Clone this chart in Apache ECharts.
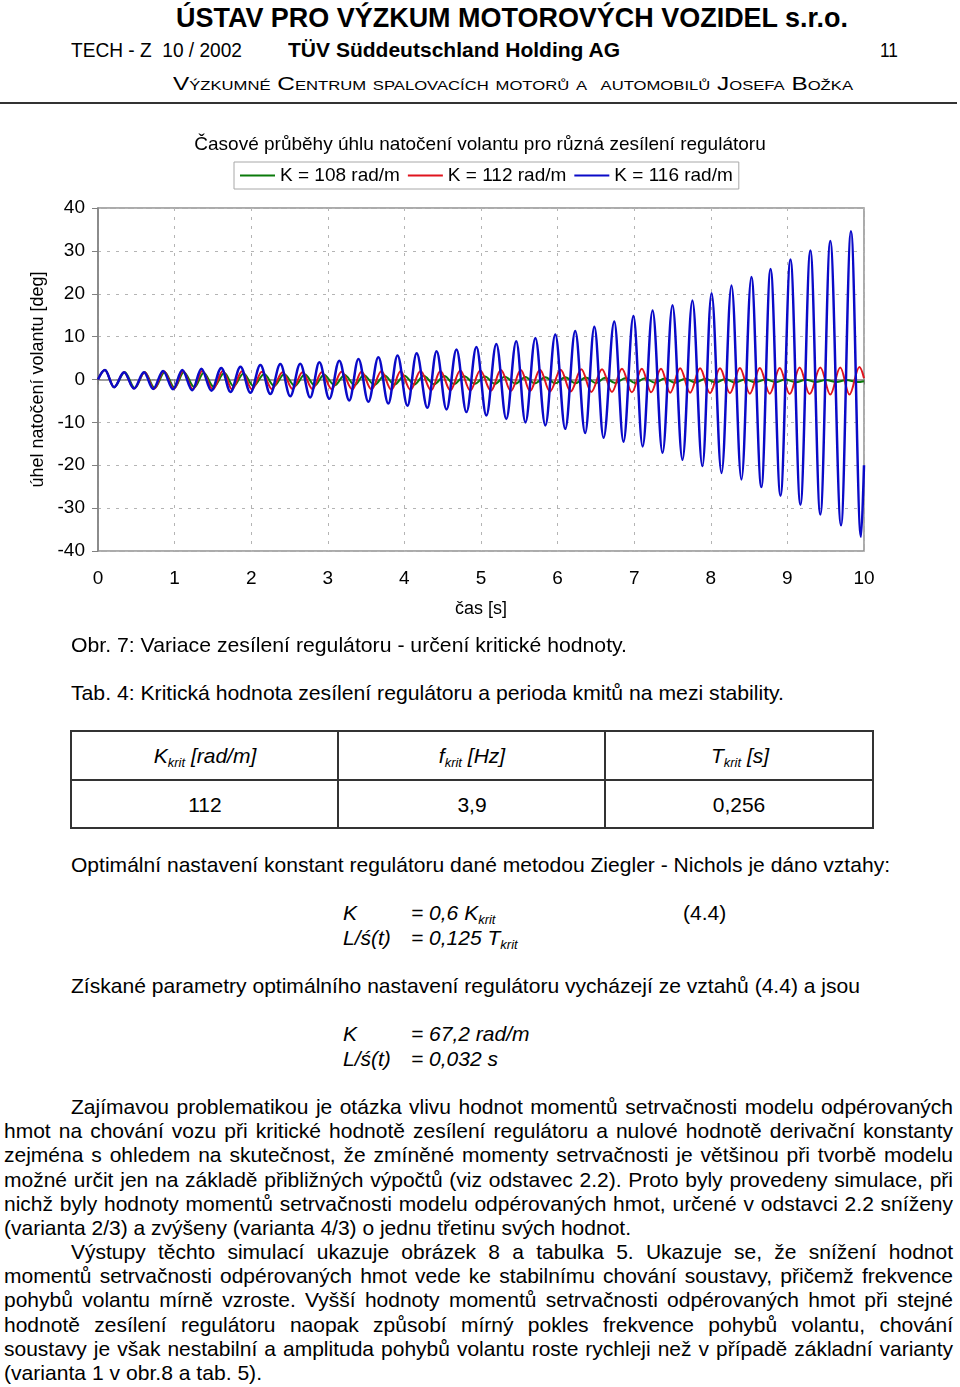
<!DOCTYPE html>
<html><head><meta charset="utf-8">
<script src="https://cdn.jsdelivr.net/npm/echarts@6/dist/echarts.min.js"></script>
<style>
html,body{margin:0;padding:0;background:#fff;}
#page{position:relative;width:960px;height:1387px;overflow:hidden;font-family:'Liberation Sans',Arial,sans-serif;color:#000;background:#fff;}
.t{position:absolute;white-space:pre;line-height:24px;height:24px;font-size:21px;transform-origin:0 50%;}
.b{font-weight:bold;}
.i{font-style:italic;}
.sc{font-variant:small-caps;}
sub{font-size:13px;vertical-align:-4px;line-height:0;}
#chart{position:absolute;left:0;top:120px;width:960px;height:520px;}
.rule{position:absolute;left:0;top:102px;width:957px;height:2px;background:#333;}
.tbl{position:absolute;box-sizing:border-box;border:2px solid #333;left:70px;top:730px;width:804px;height:99px;}
.hl{position:absolute;background:#333;}
</style></head>
<body>
<div id="page">
  <div class="t b" style="font-size:27px" data-x="176" data-y="18" data-w="672">ÚSTAV PRO VÝZKUM MOTOROVÝCH VOZIDEL s.r.o.</div>
  <div class="t" style="font-size:20px" data-x="71" data-y="50" data-w="171">TECH - Z  10 / 2002</div>
  <div class="t b" style="font-size:20px" data-x="288" data-y="50" data-w="332">TÜV Süddeutschland Holding AG</div>
  <div class="t" style="font-size:20px" data-x="880" data-y="50" data-w="18">11</div>
  <div class="t sc" style="font-size:19px" data-x="173" data-y="84" data-w="680">Výzkumné Centrum spalovacích motorů a  automobilů Josefa Božka</div>
  <div class="rule"></div>

  <div id="chart"></div>

  <div class="t" data-x="71" data-y="645" data-w="556">Obr. 7: Variace zesílení regulátoru - určení kritické hodnoty.</div>
  <div class="t" data-x="71" data-y="693" data-w="713">Tab. 4: Kritická hodnota zesílení regulátoru a perioda kmitů na mezi stability.</div>

  <div class="tbl"></div>
  <div class="hl" style="left:71px;top:779px;width:802px;height:2px"></div>
  <div class="hl" style="left:337px;top:731px;width:2px;height:97px"></div>
  <div class="hl" style="left:604px;top:731px;width:2px;height:97px"></div>
  <div class="t i" data-cx="205" data-y="756">K<sub>krit</sub> [rad/m]</div>
  <div class="t i" data-cx="472" data-y="756">f<sub>krit</sub> [Hz]</div>
  <div class="t i" data-cx="740" data-y="756">T<sub>krit</sub> [s]</div>
  <div class="t" data-cx="205" data-y="805">112</div>
  <div class="t" data-cx="472" data-y="805">3,9</div>
  <div class="t" data-cx="739" data-y="805">0,256</div>

  <div class="t" data-x="71" data-y="865" data-w="819">Optimální nastavení konstant regulátoru dané metodou Ziegler - Nichols je dáno vztahy:</div>
  <div class="t i" data-x="343" data-y="913">K</div>
  <div class="t i" data-x="411" data-y="913">= 0,6 K<sub>krit</sub></div>
  <div class="t" data-x="683" data-y="913">(4.4)</div>
  <div class="t i" data-x="343" data-y="938">L/ś(t)</div>
  <div class="t i" data-x="411" data-y="938">= 0,125 T<sub>krit</sub></div>

  <div class="t" data-x="71" data-y="986" data-w="789">Získané parametry optimálního nastavení regulátoru vycházejí ze vztahů (4.4) a jsou</div>
  <div class="t i" data-x="343" data-y="1034">K</div>
  <div class="t i" data-x="411" data-y="1034">= 67,2 rad/m</div>
  <div class="t i" data-x="343" data-y="1059">L/ś(t)</div>
  <div class="t i" data-x="411" data-y="1059">= 0,032 s</div>

  <div class="t" data-x="71" data-y="1107" data-w="882" data-j="1">Zajímavou problematikou je otázka vlivu hodnot momentů setrvačnosti modelu odpérovaných</div>
  <div class="t" data-x="4" data-y="1131" data-w="949" data-j="1">hmot na chování vozu při kritické hodnotě zesílení regulátoru a nulové hodnotě derivační konstanty</div>
  <div class="t" data-x="4" data-y="1155" data-w="949" data-j="1">zejména s ohledem na skutečnost, že zmíněné momenty setrvačnosti je většinou při tvorbě modelu</div>
  <div class="t" data-x="4" data-y="1180" data-w="949" data-j="1">možné určit jen na základě přibližných výpočtů (viz odstavec 2.2). Proto byly provedeny simulace, při</div>
  <div class="t" data-x="4" data-y="1204" data-w="949" data-j="1">nichž byly hodnoty momentů setrvačnosti modelu odpérovaných hmot, určené v odstavci 2.2 sníženy</div>
  <div class="t" data-x="4" data-y="1228" data-w="627">(varianta 2/3) a zvýšeny (varianta 4/3) o jednu třetinu svých hodnot.</div>
  <div class="t" data-x="71" data-y="1252" data-w="882" data-j="1">Výstupy těchto simulací ukazuje obrázek 8 a tabulka 5. Ukazuje se, že snížení hodnot</div>
  <div class="t" data-x="4" data-y="1276" data-w="949" data-j="1">momentů setrvačnosti odpérovaných hmot vede ke stabilnímu chování soustavy, přičemž frekvence</div>
  <div class="t" data-x="4" data-y="1300" data-w="949" data-j="1">pohybů volantu mírně vzroste. Vyšší hodnoty momentů setrvačnosti odpérovaných hmot při stejné</div>
  <div class="t" data-x="4" data-y="1325" data-w="949" data-j="1">hodnotě zesílení regulátoru naopak způsobí mírný pokles frekvence pohybů volantu, chování</div>
  <div class="t" data-x="4" data-y="1349" data-w="949" data-j="1">soustavy je však nestabilní a amplituda pohybů volantu roste rychleji než v případě základní varianty</div>
  <div class="t" data-x="4" data-y="1373" data-w="258">(varianta 1 v obr.8 a tab. 5).</div>
</div>
<script>
// ---- chart data (time [s], angle [deg]): extremes of each oscillation ----
var seriesNames = ['K = 108 rad/m', 'K = 112 rad/m', 'K = 116 rad/m'];
var k108 = [[0,0],[0.09,2.2],[0.21,-1.8],[0.35,1.7],[0.48,-2.0],[0.61,1.7],[0.74,-2.0],[0.87,1.7],[1.00,-1.9],[1.12,1.7],[1.26,-1.8],[1.38,1.6],[1.51,-1.7],[1.65,1.5],[1.77,-1.6],[1.90,1.4],[2.03,-1.55],[2.17,1.3],[2.30,-1.5],[2.43,1.25],[2.57,-1.45],[2.70,1.15],[2.83,-1.4],[2.95,1.1],[3.09,-1.35],[3.22,1.05],[3.35,-1.3],[3.47,1.0],[3.61,-1.25],[3.74,0.95],[3.87,-1.2],[4.00,0.9],[4.13,-1.15],[4.25,0.85],[4.39,-1.1],[4.52,0.8],[4.65,-1.05],[4.78,0.75],[4.92,-1.0],[5.05,0.7],[5.18,-1.0],[5.31,0.65],[5.45,-0.95],[5.58,0.6],[5.70,-0.9],[5.84,0.55],[5.97,-0.9],[6.10,0.5],[6.23,-0.85],[6.37,0.45],[6.50,-0.85],[6.62,0.4],[6.75,-0.8],[6.89,0.35],[7.01,-0.8],[7.14,0.3],[7.27,-0.75],[7.40,0.25],[7.53,-0.75],[7.67,0.2],[7.80,-0.7],[7.93,0.15],[8.06,-0.7],[8.19,0.1],[8.32,-0.7],[8.45,0.05],[8.58,-0.65],[8.72,0.0],[8.85,-0.65],[8.97,0.0],[9.11,-0.65],[9.24,-0.05],[9.37,-0.6],[9.50,-0.1],[9.64,-0.6],[9.77,-0.1],[9.91,-0.6],[10,-0.4]];
var k112 = [[0,0],[0.09,2.2],[0.21,-1.8],[0.34,1.7],[0.47,-2.1],[0.61,1.7],[0.73,-2.2],[0.86,1.9],[0.99,-2.2],[1.11,2.0],[1.24,-2.3],[1.36,2.0],[1.50,-2.3],[1.63,2.0],[1.75,-2.3],[1.88,1.9],[2.01,-2.3],[2.14,1.8],[2.27,-2.2],[2.41,1.7],[2.54,-2.2],[2.67,1.7],[2.80,-2.2],[2.92,1.7],[3.05,-2.2],[3.18,1.8],[3.32,-2.3],[3.44,1.8],[3.57,-2.3],[3.70,1.9],[3.83,-2.4],[3.95,1.9],[4.08,-2.4],[4.21,2.0],[4.35,-2.5],[4.47,2.0],[4.60,-2.5],[4.73,2.1],[4.86,-2.6],[4.99,2.1],[5.13,-2.6],[5.26,2.2],[5.39,-2.7],[5.52,2.2],[5.64,-2.7],[5.77,2.3],[5.90,-2.8],[6.04,2.3],[6.17,-2.8],[6.31,2.4],[6.44,-2.9],[6.58,2.4],[6.71,-2.9],[6.84,2.5],[6.97,-3.0],[7.10,2.5],[7.22,-3.0],[7.35,2.5],[7.47,-3.1],[7.60,2.6],[7.73,-3.1],[7.86,2.6],[7.99,-3.2],[8.12,2.6],[8.25,-3.2],[8.38,2.7],[8.51,-3.3],[8.64,2.7],[8.77,-3.3],[8.90,2.7],[9.03,-3.4],[9.16,2.8],[9.29,-3.4],[9.43,2.8],[9.56,-3.5],[9.69,2.8],[9.81,-3.5],[9.94,2.9],[10,0.3]];
var k116 = [[0,0],[0.09,2.2],[0.21,-1.8],[0.34,1.7],[0.47,-2.1],[0.60,1.7],[0.72,-2.2],[0.85,2.0],[0.98,-2.3],[1.10,2.2],[1.23,-2.5],[1.35,2.5],[1.48,-2.6],[1.61,2.7],[1.73,-2.9],[1.86,3.0],[1.99,-3.1],[2.12,3.4],[2.25,-3.4],[2.38,3.6],[2.51,-3.9],[2.64,3.7],[2.77,-4.2],[2.89,4.0],[3.02,-4.5],[3.15,4.4],[3.28,-4.9],[3.40,4.8],[3.53,-5.2],[3.66,5.2],[3.79,-5.6],[3.91,5.6],[4.04,-6.1],[4.16,6.1],[4.30,-6.6],[4.42,6.6],[4.55,-7.0],[4.68,7.0],[4.81,-7.6],[4.94,7.6],[5.07,-8.4],[5.20,8.3],[5.33,-9.2],[5.46,8.9],[5.58,-10.0],[5.71,9.7],[5.84,-10.7],[5.97,10.5],[6.10,-11.5],[6.23,11.3],[6.36,-12.5],[6.48,12.3],[6.60,-13.6],[6.74,13.5],[6.86,-14.5],[6.99,14.8],[7.11,-15.6],[7.24,16.1],[7.37,-17.1],[7.50,17.3],[7.63,-18.7],[7.76,18.4],[7.89,-20.2],[8.01,20.1],[8.14,-21.8],[8.27,21.9],[8.40,-23.3],[8.53,23.9],[8.66,-25.1],[8.78,25.8],[8.91,-27.1],[9.04,28.0],[9.17,-29.2],[9.30,30.1],[9.43,-31.5],[9.56,32.3],[9.70,-34.0],[9.83,34.6],[9.96,-36.7],[10,-20]];
var seriesColors = ['#0a7a0a', '#e0141e', '#0a0ac8'];
var seriesWidths = [2, 2, 2.5];
var xRange = [0, 10, 1];
var yRange = [-40, 40, 10];

// ---- text layout: fit each line to its width in the scanned page ----
document.querySelectorAll('#page .t').forEach(function (el) {
  var d = el.dataset;
  el.style.top = (+d.y - 12) + 'px';
  var nat = el.getBoundingClientRect().width;
  if (d.cx) { el.style.left = (+d.cx - nat / 2) + 'px'; return; }
  el.style.left = d.x + 'px';
  if (!d.w) return;
  var w = +d.w;
  if (d.j && nat < w) {
    var n = (el.textContent.match(/ /g) || []).length;
    if (n) el.style.wordSpacing = ((w - nat) / n) + 'px';
  } else {
    el.style.transform = 'scaleX(' + (w / nat) + ')';
  }
});

// ---- chart ----
var FONT = "'Liberation Sans', Arial, sans-serif";
var chart = echarts.init(document.getElementById('chart'), null, {renderer: 'canvas'});
var datasets = [k108, k112, k116];
chart.setOption({
  animation: false,
  backgroundColor: 'transparent',
  title: {
    text: 'Časové průběhy úhlu natočení volantu pro různá zesílení regulátoru',
    left: 'center', top: 15, padding: 0,
    textStyle: {fontFamily: FONT, fontSize: 19, fontWeight: 'normal', color: '#000'}
  },
  legend: {
    left: 234, top: 42, padding: [4, 6], itemGap: 8, itemWidth: 35, itemHeight: 2,
    icon: 'rect', borderColor: '#a8a8a8', borderWidth: 1,
    data: seriesNames,
    textStyle: {fontFamily: FONT, fontSize: 19, color: '#000'}
  },
  grid: {left: 98, right: 96, top: 88, bottom: 89, show: true, borderColor: '#909090', borderWidth: 1.5,
         containLabel: false, outerBoundsMode: 'none'},
  xAxis: {
    type: 'value', min: xRange[0], max: xRange[1], interval: xRange[2],
    name: 'čas [s]', nameLocation: 'middle', nameGap: 49,
    nameTextStyle: {fontFamily: FONT, fontSize: 18, color: '#000'},
    axisLine: {show: true, lineStyle: {color: '#808080', width: 1.5}},
    axisTick: {show: true, length: 5, lineStyle: {color: '#808080'}},
    axisLabel: {fontFamily: FONT, fontSize: 19, color: '#000', margin: 18},
    splitLine: {show: true, lineStyle: {color: '#b4b4b4', width: 1, type: [3, 6]}}
  },
  yAxis: {
    type: 'value', min: yRange[0], max: yRange[1], interval: yRange[2],
    name: 'úhel natočení volantu [deg]', nameLocation: 'middle', nameGap: 48, nameRotate: 90,
    nameTextStyle: {fontFamily: FONT, fontSize: 18, color: '#000'},
    axisLine: {show: true, lineStyle: {color: '#808080', width: 1.5}},
    axisTick: {show: true, length: 6, lineStyle: {color: '#808080'}},
    axisLabel: {fontFamily: FONT, fontSize: 19, color: '#000', margin: 13},
    splitLine: {show: true, lineStyle: {color: '#b4b4b4', width: 1, type: [3, 6]}}
  },
  series: datasets.map(function (d, i) {
    return {
      name: seriesNames[i], type: 'line', data: d,
      showSymbol: false, symbol: 'none', smooth: 0.36, smoothMonotone: 'x',
      lineStyle: {color: seriesColors[i], width: seriesWidths[i]},
      itemStyle: {color: seriesColors[i]},
      z: 2 + i
    };
  })
});
</script>
</body></html>
